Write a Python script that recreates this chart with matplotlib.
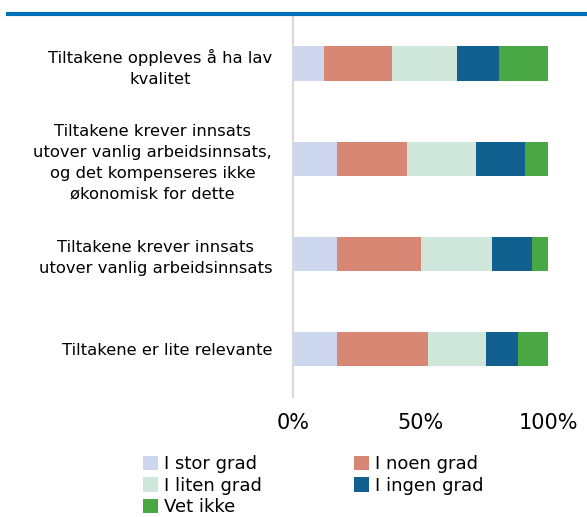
import numpy as np
import matplotlib.pyplot as plt
from matplotlib.lines import Line2D

plt.rcParams['font.family'] = ['DejaVu Sans']

# data (percent)
categories = [
    "Tiltakene oppleves å ha lav\nkvalitet",
    "Tiltakene krever innsats\nutover vanlig arbeidsinnsats,\nog det kompenseres ikke\nøkonomisk for dette",
    "Tiltakene krever innsats\nutover vanlig arbeidsinnsats",
    "Tiltakene er lite relevante",
]
series_names = ["I stor grad", "I noen grad", "I liten grad", "I ingen grad", "Vet ikke"]
stor = [12.0, 17.1, 17.4, 17.4]
noen = [26.8, 27.7, 32.7, 35.4]
liten = [25.5, 26.8, 28.0, 22.9]
ingen = [16.6, 19.3, 15.7, 12.5]
vetikke = [19.1, 9.1, 6.2, 11.8]
tick_labels = ["0%", "50%", "100%"]

colors = ["#CDD7EE", "#D88775", "#CFE7DB", "#116090", "#4AA844"]

fig = plt.figure(figsize=(5.87, 5.17), dpi=100)
ax = fig.add_axes([293 / 587, 1 - 396.5 / 517, 255 / 587, 380.5 / 517])

y = np.arange(len(categories))
left = np.zeros(len(categories))
handles = []
for name, vals, c in zip(series_names, [stor, noen, liten, ingen, vetikke], colors):
    b = ax.barh(y, vals, left=left, height=0.36, color=c, label=name)
    handles.append(b)
    left += np.array(vals)

ax.set_ylim(len(categories) - 0.5, -0.5)
ax.set_xlim(0, 100)
ax.set_yticks(y)
ax.set_yticklabels(categories, fontsize=11.8, multialignment="center", linespacing=1.48)
ax.set_xticks([0, 50, 100])
ax.set_xticklabels(tick_labels, fontsize=15)
ax.tick_params(length=0)
ax.tick_params(axis="x", pad=12)
ax.tick_params(axis="y", pad=15)
for s in ["top", "right", "bottom"]:
    ax.spines[s].set_visible(False)
ax.spines["left"].set_color("#D9D9D9")
ax.spines["left"].set_linewidth(1.5)

# blue rule at the top
fig.add_artist(Line2D([8 / 587, 1], [1 - 14 / 517, 1 - 14 / 517], color="#0070B8", linewidth=3))

order = [0, 2, 4, 1, 3]
fig.legend([handles[i] for i in order], [series_names[i] for i in order],
           loc="upper left", bbox_to_anchor=(134 / 587, 1 - 446 / 517), ncol=2,
           frameon=False, fontsize=13, handlelength=0.85, handleheight=0.85,
           handletextpad=0.3, columnspacing=5.1, labelspacing=0.2, borderpad=0)

fig.savefig("out.png", dpi=100)
